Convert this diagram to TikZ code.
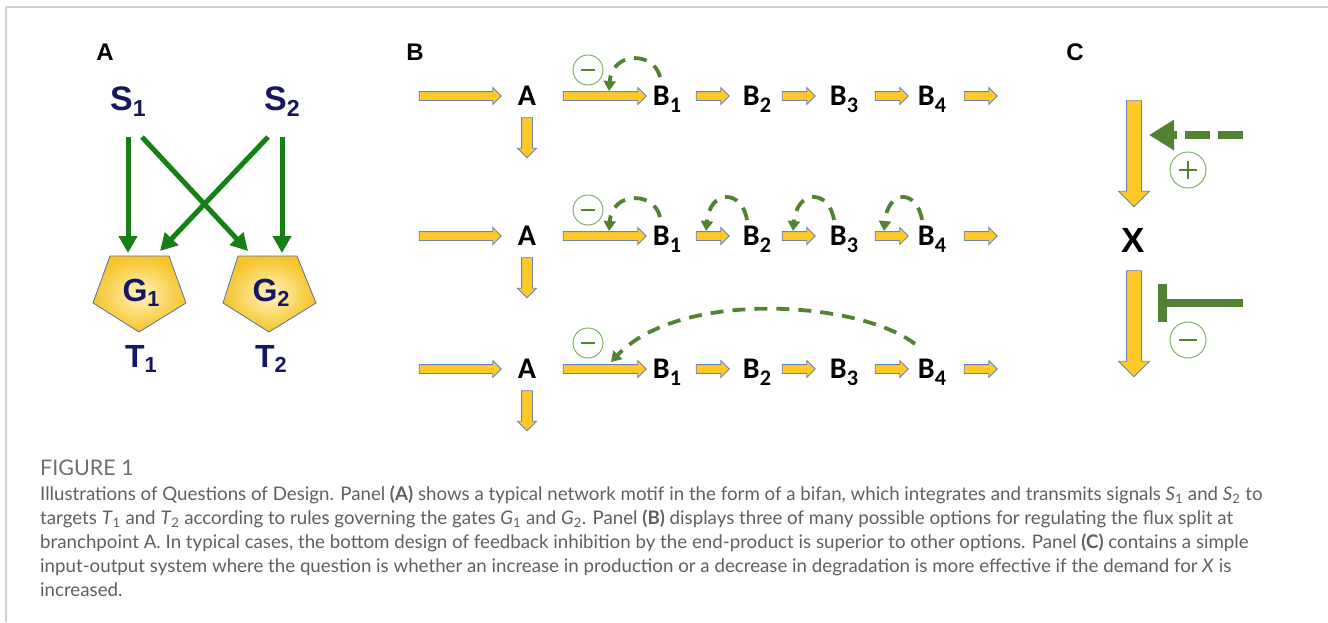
\documentclass[tikz,border=0pt]{standalone}
\usepackage{fontspec}
\setmainfont{Lato}
\newfontfamily\arial{Liberation Sans}
\newfontfamily\calib{Carlito}
\usetikzlibrary{shapes.arrows,arrows.meta,calc}
\definecolor{navy}{RGB}{22,22,100}
\definecolor{gA}{RGB}{22,128,22}
\definecolor{gB}{RGB}{84,130,53}
\definecolor{gL}{RGB}{125,180,105}
\definecolor{ayellow}{RGB}{255,202,40}
\definecolor{arrline}{RGB}{105,130,185}
\definecolor{pin}{RGB}{255,244,190}
\definecolor{pout}{RGB}{246,196,40}
\definecolor{pborder}{RGB}{90,110,170}
\definecolor{capgray}{RGB}{95,95,95}
\definecolor{framec}{RGB}{210,210,210}
\newcommand\subd[1]{\raisebox{-0.17em}{\scalebox{0.68}{#1}}}
\newcommand\bsub[1]{\raisebox{-0.25em}{\scalebox{0.74}{#1}}}
\tikzset{
  plabel/.style={font=\arial\bfseries\fontsize{24}{28}\selectfont, text=black, inner sep=0pt},
  navyt/.style={font=\arial\bfseries\fontsize{34}{36}\selectfont, text=navy, inner sep=0pt},
  btext/.style={font=\calib\bfseries\fontsize{30}{31}\selectfont, text=black, inner sep=0pt, anchor=base},
  xtext/.style={font=\arial\bfseries\fontsize{35}{36}\selectfont, text=black, inner sep=0pt},
  garr/.style={draw=gA, line width=5pt, -{Triangle[width=18pt,length=17pt]}},
  flowarr/.style={single arrow, draw=arrline, fill=ayellow, line width=0.8pt, inner xsep=0pt, inner ysep=4pt, outer sep=0pt, minimum width=0pt, single arrow head extend=4pt, single arrow tip angle=90},
  downarr/.style={flowarr, inner ysep=5pt, single arrow head extend=4pt},
  bigarr/.style={flowarr, inner ysep=7pt, single arrow head extend=8pt},
  fbk/.style={draw=gB, line width=3.8pt, dash pattern=on 13pt off 9pt, -{Triangle[width=12pt,length=10pt]}},
  mcirc/.style={circle, draw=gL, line width=1pt, minimum size=#1, inner sep=0pt,
    path picture={\draw[gB, line width=2.6pt] ([xshift=-0.24*#1]path picture bounding box.center) -- ([xshift=0.24*#1]path picture bounding box.center);}},
  pcirc/.style={circle, draw=gL, line width=1pt, minimum size=#1, inner sep=0pt,
    path picture={\draw[gB, line width=2.6pt] ([xshift=-0.24*#1]path picture bounding box.center) -- ([xshift=0.24*#1]path picture bounding box.center)
      ([yshift=-0.24*#1]path picture bounding box.center) -- ([yshift=0.24*#1]path picture bounding box.center);}},
  act/.style={draw=gB, line width=8pt, dash pattern=on 25pt off 8pt, -{Triangle[width=29pt,length=25pt]}},
  inh/.style={draw=gB, line width=8.5pt, -{Bar[width=38pt]}},
  capline/.style={anchor=base west, inner sep=0pt, text=capgray, font=\fontsize{18.7}{22}\selectfont}
}
\begin{document}
\begin{tikzpicture}[x=1pt,y=-1pt]
\useasboundingbox (0,0) rectangle (1328,622);
\draw[framec, line width=1.5pt] (6,622) -- (6,7) -- (1328,7);

% panel labels
\node[plabel] (labA) at (105,52) {A};
\node[plabel] (labB) at (415,52) {B};
\node[plabel] (labC) at (1075,52) {C};

% ---------------- Panel A
\node[navyt] (S1) at (128,102) {S\subd{1}};
\node[navyt] (S2) at (282,102) {S\subd{2}};
\shade[inner color=pin, outer color=pout, draw=pborder, line width=0.8pt]
  (110,256) -- (169,256) -- (186,303) -- (139,332) -- (93,303) -- cycle;
\shade[inner color=pin, outer color=pout, draw=pborder, line width=0.8pt]
  (238,256) -- (297,256) -- (316,303) -- (269,332) -- (223,303) -- cycle;
\node[navyt, font=\arial\bfseries\fontsize{32}{33}\selectfont] (G1) at (141,293) {G\subd{1}};
\node[navyt, font=\arial\bfseries\fontsize{32}{33}\selectfont] (G2) at (271,293) {G\subd{2}};
\node[navyt, font=\arial\bfseries\fontsize{32}{33}\selectfont] (T1) at (141,359) {T\subd{1}};
\node[navyt, font=\arial\bfseries\fontsize{32}{33}\selectfont] (T2) at (271,359) {T\subd{2}};
\coordinate (S1a) at (128,137);
\coordinate (S1b) at (142,137);
\coordinate (S2a) at (268,137);
\coordinate (S2b) at (282,137);
\coordinate (G1a) at (128,253);
\coordinate (G1b) at (160,251);
\coordinate (G2a) at (248,251);
\coordinate (G2b) at (282,253);
\draw[garr] (S1a) -- (G1a);
\draw[garr] (S1b) -- (G2a);
\draw[garr] (S2a) -- (G1b);
\draw[garr] (S2b) -- (G2b);

% ---------------- Panel B
\foreach \r/\y in {1/96,2/236,3/369}{
  \node[flowarr, minimum height=82pt] (in\r) at (458,\y) {};
  \node[btext] (A\r) at (527,\y+9) {A};
  \node[downarr, minimum height=40pt, rotate=-90] (dn\r) at (527,\y+39) {};
  \node[flowarr, minimum height=83pt] (ab\r) at (602.5,\y) {};
  \node[btext] (B\r-1) at (667,\y+9) {B\bsub{1}};
  \node[flowarr, minimum height=33pt] (b12\r) at (710.5,\y) {};
  \node[btext] (B\r-2) at (757,\y+9) {B\bsub{2}};
  \node[flowarr, minimum height=33pt] (b23\r) at (796.5,\y) {};
  \node[btext] (B\r-3) at (844,\y+9) {B\bsub{3}};
  \node[flowarr, minimum height=33pt] (b34\r) at (889.5,\y) {};
  \node[btext] (B\r-4) at (932,\y+9) {B\bsub{4}};
  \node[flowarr, minimum height=33pt] (out\r) at (978.5,\y) {};
  \node[mcirc=30pt] (m\r) at (588,\y-26) {};
}
% row 1 and row 2: feedback from B1
\foreach \r in {1,2}{
  \draw[fbk] ([shift={(-7,-28)}]B\r-1.base) .. controls +(-6,-26) and +(3,-40) .. ([shift={(6.5,-5)}]ab\r.center);
}
% row 2: local feedbacks
\draw[fbk] ([shift={(-10,-25)}]B2-2.base) .. controls +(-5,-31) and +(4,-42) .. ([shift={(-4.5,-5)}]b122.center);
\draw[fbk] ([shift={(-10,-25)}]B2-3.base) .. controls +(-5,-31) and +(4,-42) .. ([shift={(-3.5,-5)}]b232.center);
\draw[fbk] ([shift={(-10,-25)}]B2-4.base) .. controls +(-5,-31) and +(4,-42) .. ([shift={(-5.5,-5)}]b342.center);
% row 3: end-product feedback
\draw[fbk] ([shift={(-17,-34)}]B3-4.base) .. controls +(-55,-43) and +(69,-73) .. ([shift={(8.5,-7)}]ab3.center);

% ---------------- Panel C
\node[bigarr, minimum height=106pt, rotate=-90] (c1) at (1134,150) {};
\node[xtext] (X) at (1133,240) {X};
\node[bigarr, minimum height=106pt, rotate=-90] (c2) at (1134,320) {};
\coordinate (actsrc) at (1243,135);
\coordinate (inhsrc) at (1243,303);
\draw[act] (actsrc) -- ([shift={(15,-15)}]c1.center);
\draw[inh] (inhsrc) -- ([shift={(24,-17)}]c2.center);
\node[pcirc=36pt] (plus) at (1188,170) {};
\node[mcirc=36pt] (minus) at (1188,340) {};

% ---------------- Caption
\node[capline, font=\fontsize{21.5}{22}\selectfont, text=capgray!90] (fig) at (40,475) {FIGURE 1};
\node[capline] (cap1) at (40,500) {Illustrations of Questions of Design. Panel \textbf{(A)} shows a typical network motif in the form of a bifan, which integrates and transmits signals \textit{S}\textsubscript{1} and \textit{S}\textsubscript{2} to};
\node[capline] (cap2) at (40,524) {targets \textit{T}\textsubscript{1} and \textit{T}\textsubscript{2} according to rules governing the gates \textit{G}\textsubscript{1} and \textit{G}\textsubscript{2}. Panel \textbf{(B)} displays three of many possible options for regulating the flux split at};
\node[capline] (cap3) at (40,548) {branchpoint A. In typical cases, the bottom design of feedback inhibition by the end-product is superior to other options. Panel \textbf{(C)} contains a simple};
\node[capline] (cap4) at (40,572) {input-output system where the question is whether an increase in production or a decrease in degradation is more effective if the demand for \textit{X} is};
\node[capline] (cap5) at (40,596) {increased.};
\end{tikzpicture}
\end{document}
